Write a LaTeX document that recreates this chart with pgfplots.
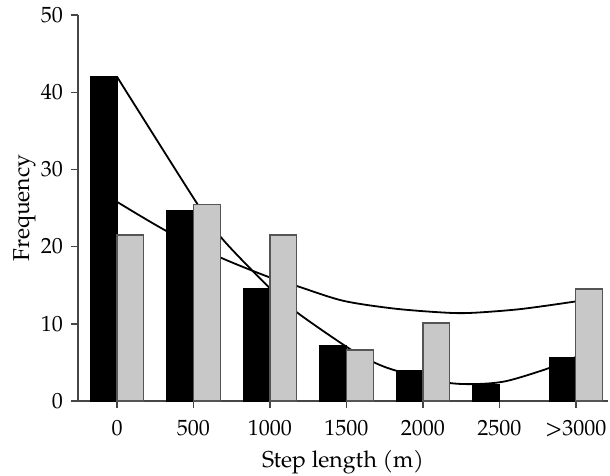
\documentclass[border=0pt]{standalone}
\usepackage{pgfplots}
\pgfplotsset{compat=1.18}
\usepackage{fontspec}
\setmainfont{TeX Gyre Pagella}

\definecolor{bargray}{RGB}{200,200,200}
\definecolor{edgegray}{RGB}{85,85,85}
\definecolor{axisgray}{RGB}{70,70,70}

\begin{document}
\begin{tikzpicture}
\begin{axis}[
  name=ax,
  scale only axis,
  width=265pt, height=193pt,
  xmin=-0.51, xmax=6.42,
  ymin=0, ymax=50,
  axis x line*=bottom, axis y line*=left,
  axis line style={-, axisgray, line width=0.7pt},
  xtick={0,1,2,3,4,5,6},
  xticklabels={0,500,1000,1500,2000,2500,\textgreater3000},
  ytick={0,10,20,30,40,50},
  tick align=outside,
  major tick length=3.5pt,
  tick style={axisgray, line width=0.7pt},
  tick label style={font=\fontsize{11}{13}\selectfont},
  xticklabel style={yshift=-2.5pt},
  yticklabel style={xshift=-0.5pt},
  /pgf/number format/assume math mode=true,
  xlabel={Step length (m)},
  ylabel={Frequency},
  label style={font=\fontsize{11.5}{14}\selectfont},
  xlabel style={at={(axis description cs:0.5,0)}, anchor=base, yshift=-33.5pt},
  ylabel style={at={(axis description cs:0,0.5)}, anchor=base, yshift=24pt},
  clip=false,
]
% fitted curves (drawn behind the bars)
\addplot[black, line width=0.9pt, smooth] coordinates {
  (0,42.0) (1.046,25.6) (1.386,20.9) (2.0,14.6) (2.35,11.5) (3.02,6.9)
  (3.35,5.05) (3.66,3.9) (4.3,2.4) (4.7,2.2) (5.1,2.6) (5.66,4.3) (6.0,5.7)
};
\addplot[black, line width=0.9pt, smooth] coordinates {
  (0,25.8) (0.65,22.0) (1.35,18.6) (2.0,16.0) (2.35,14.9) (2.95,13.0)
  (3.6,12.0) (4.2,11.5) (4.6,11.4) (5.27,11.9) (6.0,12.9)
};
% black bars
\addplot[ybar, bar width=0.35, bar shift=-0.175, fill=black, draw=black] coordinates {
  (0,42.0) (1,24.7) (2,14.6) (3,7.2) (4,4.0) (5,2.2) (6,5.6)
};
% grey bars
\addplot[ybar, bar width=0.35, bar shift=0.175, fill=bargray, draw=edgegray, line width=0.6pt] coordinates {
  (0,21.5) (1,25.5) (2,21.5) (3,6.6) (4,10.1) (6,14.5)
};
\end{axis}
\pgfresetboundingbox
\path[use as bounding box] ([shift={(-39pt,-37.5pt)}]ax.south west) rectangle ([shift={(266pt,200.5pt)}]ax.south west);
\end{tikzpicture}
\end{document}
